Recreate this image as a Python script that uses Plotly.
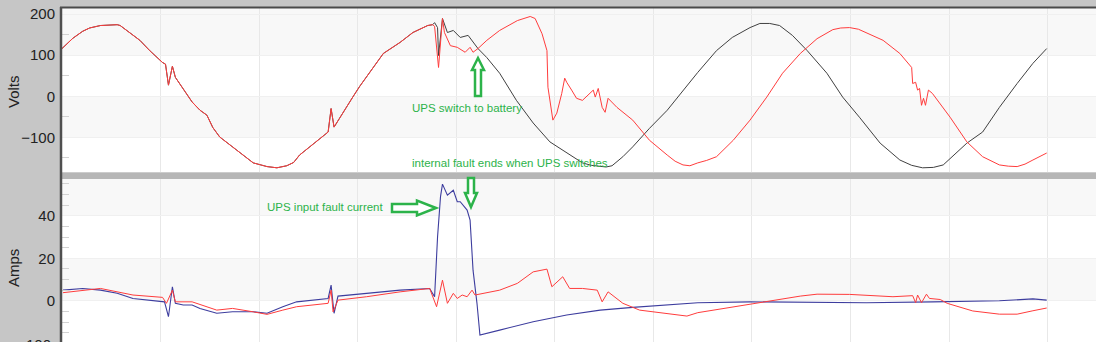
import plotly.graph_objects as go

# ---------------- data (time in samples, 100 per grid division) ----------------
# voltage segment where grid voltage and UPS output coincide
common_t = [0, 11, 21, 28, 39, 56, 59, 79, 89, 102, 105, 108, 112, 115, 132, 140, 147, 153, 160, 173,
            194, 208, 218, 228, 235, 241, 255, 270, 273, 276, 295, 302, 326, 343, 356, 371, 376]
common_v = [116, 141, 158, 166, 172, 174, 172, 136, 111, 82, 78, 27, 73, 46, -14, -34, -46, -76, -99, -123,
            -162, -171, -174, -169, -161, -143, -115, -87, -30, -75, -2, 24, 104, 131, 155, 172, 174]

# grid (input) voltage after divergence
grid_t = [378, 381, 382, 386, 391, 397, 404, 412, 417, 422, 431, 444, 461, 478, 495, 512, 528, 537,
          546, 552, 558, 569, 579, 596, 614, 630, 645, 664, 680, 698, 708, 718, 728, 741, 756, 776,
          792, 809, 830, 850, 862, 873, 884, 894, 918, 934, 951, 969, 985, 999]
grid_v = [179, 167, 99, 189, 155, 160, 143, 148, 131, 116, 94, 56, -10, -65, -111, -138, -162, -168,
          -171, -172, -169, -147, -123, -78, -34, 15, 58, 111, 143, 167, 177, 177, 172, 148, 111, 56,
          -2, -51, -114, -155, -168, -174, -173, -167, -114, -87, -27, 31, 80, 116]

# UPS output voltage after divergence
ups_t = [378, 382, 386, 388, 394, 401, 409, 414, 417, 422, 431, 444, 462, 475, 480, 487, 492, 493,
         498, 502, 507, 510, 512, 517, 522, 528, 536, 539, 541, 544, 548, 551, 554, 563, 579, 596,
         614, 622, 630, 637, 645, 654, 664, 681, 698, 715, 731, 749, 766, 782, 790, 799, 808, 816,
         833, 850, 862, 863, 866, 868, 870, 872, 874, 876, 879, 883, 901, 918, 934, 951, 960, 969,
         977, 985, 999]
ups_v = [170, 70, 189, 155, 123, 119, 107, 119, 107, 116, 136, 160, 184, 194, 189, 152, 111, 22,
         -58, -41, 7, 44, 34, 15, -5, -10, 7, 15, -2, 19, -27, -39, -5, -27, -58, -107,
         -143, -158, -167, -169, -162, -156, -147, -107, -58, -2, 56, 104, 140, 162, 166, 167, 163, 155,
         136, 104, 70, 31, 34, 15, 19, -22, -5, -22, 15, 7, -51, -111, -147, -167, -170, -171,
         -165, -155, -138]

# input current (blue)
iin_t = [1, 21, 39, 56, 72, 89, 104, 108, 112, 115, 123, 132, 140, 157, 173, 194, 208, 224, 238,
         270, 273, 276, 280, 309, 343, 373, 378, 381, 384, 386, 391, 397, 401, 404, 411, 414, 417,
         421, 424, 444, 478, 512, 546, 579, 614, 645, 698, 749, 816, 883, 951, 985, 999]
iin_a = [5.0, 5.8, 5.0, 3.5, 1.1, 0.3, -0.5, -7.5, 6.6, -1.2, -2.0, -2.0, -3.6, -5.9, -5.2, -5.2, -5.9, -2.8, -0.5,
         1.1, 7.4, -5.9, 2.2, 3.5, 5.0, 5.8, 1.9, 30, 49, 54.9, 49.7, 52, 46.6, 46.6, 42.7, 38, 14.4,
         -1.2, -16.1, -13.8, -9.9, -6.7, -4.4, -3.1, -2.0, -0.9, -0.5, -0.6, -0.9, -0.5, 0, 0.9, 0.3]

# output current (red)
iout_t = [1, 39, 72, 102, 106, 112, 115, 132, 157, 173, 194, 208, 224, 238, 270, 273, 275, 280, 309,
          343, 373, 380, 386, 391, 397, 401, 406, 411, 416, 419, 444, 462, 478, 492, 497, 508, 515,
          528, 543, 548, 554, 569, 586, 614, 634, 645, 681, 715, 749, 766, 799, 843, 863, 866, 868,
          872, 877, 880, 891, 898, 924, 951, 969, 985, 999]
iout_a = [3.8, 5.8, 2.7, 1.6, -1.2, 5.0, -0.5, -0.5, -4.4, -3.6, -5.2, -6.4, -4.4, -2.8, -1.2, 5.0, -5.2, 0.3, 1.9,
          4.2, 5.8, -2.8, 9.7, -1.2, 3.5, 1.1, 2.7, 1.9, 5.0, 2.7, 5.0, 8.2, 13.6, 14.9, 6.6, 11.3, 5.8,
          5.8, 5.0, -0.5, 4.2, -1.2, -4.4, -5.9, -7.2, -5.6, -2.8, -0.5, 2.2, 3.1, 3.0, 1.9, 2.4, -0.9, 2.7,
          -0.9, 3.1, 1.1, 0.6, -1.2, -4.8, -6.3, -6.3, -4.7, -3.4]

# ---------------- layout helpers ----------------
W, H = 1096, 342
ML, MT = 62, 8
PW, PH = W - ML, H - MT


def pxx(x):
    return (x - ML) / PW


def pxy(y):
    return (H - y) / PH


GREEN = "#2cb34a"
TXT = "#222222"
FONT = "Liberation Sans, Arial, sans-serif"

fig = go.Figure()
fig.add_trace(go.Scatter(x=common_t + grid_t, y=common_v + grid_v, mode="lines",
                         line=dict(color="#404040", width=1.0), xaxis="x", yaxis="y"))
fig.add_trace(go.Scatter(x=common_t + ups_t, y=common_v + ups_v, mode="lines",
                         line=dict(color="#ff3c3c", width=1.0), xaxis="x", yaxis="y"))
fig.add_trace(go.Scatter(x=iin_t, y=iin_a, mode="lines",
                         line=dict(color="#3d3d9e", width=1.1), xaxis="x2", yaxis="y2"))
fig.add_trace(go.Scatter(x=iout_t, y=iout_a, mode="lines",
                         line=dict(color="#ff3c3c", width=1.0), xaxis="x2", yaxis="y2"))

xcommon = dict(range=[0, 1049], dtick=100, tick0=0, showticklabels=False, ticks="",
               showgrid=True, gridcolor="#e8e8e8", gridwidth=1, zeroline=False, showline=False)
ycommon = dict(ticks="", showgrid=True, gridcolor="#f0f0f0", zeroline=False, showline=False,
               tickfont=dict(family=FONT, size=15, color=TXT), ticklabelstandoff=6)

shapes = []
# alternating bands
for (y0, y1, ref) in [(100, 300, "y"), (-100, 0, "y"), (40, 80, "y2"), (0, 20, "y2")]:
    shapes.append(dict(type="rect", xref="x domain" if ref == "y" else "x2 domain", yref=ref,
                       x0=0, x1=1, y0=y0, y1=y1, fillcolor="#f8f8f8", line=dict(width=0),
                       layer="below"))
# separator band
shapes.append(dict(type="rect", xref="paper", yref="paper", x0=0, x1=1, y0=pxy(179), y1=pxy(172.5),
                   fillcolor="#b6b6b6", line=dict(width=0)))
# top border line
shapes.append(dict(type="line", xref="paper", yref="paper", x0=pxx(60), x1=1, y0=pxy(7.5), y1=pxy(7.5),
                   line=dict(color="#4a4a4a", width=2)))
# left axis line
shapes.append(dict(type="line", xref="paper", yref="paper", x0=pxx(61), x1=pxx(61), y0=0, y1=pxy(7),
                   line=dict(color="#4f4f4f", width=2.5)))


def arrow_path(points):
    return "M " + " L ".join(f"{pxx(x):.5f},{pxy(y):.5f}" for x, y in points) + " Z"


# up arrow (UPS switch to battery)
cx = 478
up = [(cx, 58), (cx + 6, 70), (cx + 3, 70), (cx + 3, 96), (cx - 3, 96), (cx - 3, 70), (cx - 6, 70)]
# down arrow (internal fault ends)
cx2 = 471
down = [(cx2, 207), (cx2 + 6, 193), (cx2 + 3, 193), (cx2 + 3, 178), (cx2 - 3, 178), (cx2 - 3, 193),
        (cx2 - 6, 193)]
# right arrow (fault current)
cy = 208
right = [(436, cy), (417, cy - 7.5), (417, cy - 4), (392, cy - 4), (392, cy + 4), (417, cy + 4),
         (417, cy + 7.5)]
for pts in (up, down, right):
    shapes.append(dict(type="path", xref="paper", yref="paper", path=arrow_path(pts),
                       fillcolor="white", line=dict(color=GREEN, width=2.5)))

annotations = [
    dict(text="Volts", xref="paper", yref="paper", x=pxx(13), y=pxy(92), textangle=-90,
         showarrow=False, font=dict(family=FONT, size=15, color=TXT), xanchor="center", yanchor="middle"),
    dict(text="Amps", xref="paper", yref="paper", x=pxx(13), y=pxy(268), textangle=-90,
         showarrow=False, font=dict(family=FONT, size=15, color=TXT), xanchor="center", yanchor="middle"),
    dict(text="-100", xref="paper", yref="paper", x=pxx(53), y=pxy(344), xanchor="right", yanchor="middle",
         showarrow=False, font=dict(family=FONT, size=15, color=TXT)),
    dict(text="UPS switch to battery", xref="paper", yref="paper", x=pxx(467), y=pxy(108),
         showarrow=False, font=dict(family=FONT, size=11.5, color=GREEN), xanchor="center", yanchor="middle"),
    dict(text="internal fault ends when UPS switches", xref="paper", yref="paper", x=pxx(510), y=pxy(163),
         showarrow=False, font=dict(family=FONT, size=11.5, color=GREEN), xanchor="center", yanchor="middle"),
    dict(text="UPS input fault current", xref="paper", yref="paper", x=pxx(325), y=pxy(207),
         showarrow=False, font=dict(family=FONT, size=11.5, color=GREEN), xanchor="center", yanchor="middle"),
]

fig.update_layout(
    width=W, height=H,
    margin=dict(l=ML, r=0, t=MT, b=0, pad=0),
    paper_bgcolor="#c6c6c6", plot_bgcolor="white",
    showlegend=False,
    xaxis=dict(anchor="y", domain=[0, 1], **xcommon),
    xaxis2=dict(anchor="y2", domain=[0, 1], matches="x", **xcommon),
    yaxis=dict(anchor="x", domain=[pxy(172.5), 1], range=[-185.4, 214.6], dtick=100, tick0=0,
               minor=dict(ticks="inside", ticklen=7, tickcolor="#d2d2d2", dtick=50, tick0=0, showgrid=False),
               **ycommon),
    yaxis2=dict(anchor="x2", domain=[0, pxy(179)], range=[-19.4, 57.3], dtick=20, tick0=0,
                minor=dict(ticks="inside", ticklen=7, tickcolor="#d2d2d2", dtick=5, tick0=0, showgrid=False),
                **ycommon),
    shapes=shapes,
    annotations=annotations,
)

fig.write_html("out.html")
